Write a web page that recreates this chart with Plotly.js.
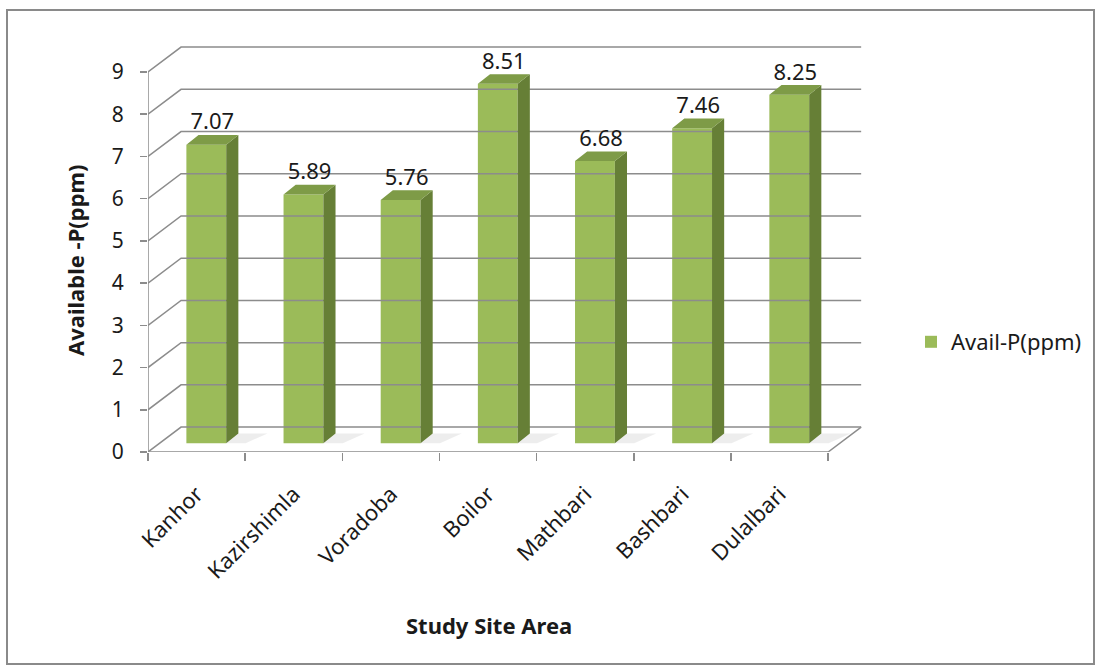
<!DOCTYPE html>
<html>
<head>
<meta charset="utf-8">
<script src="https://cdn.plot.ly/plotly-3.0.1.min.js"></script>
<style>html,body{margin:0;padding:0;background:#fff;}#chart{width:1102px;height:668px;}</style>
</head>
<body>
<div id="chart"></div>
<script>
// ---- data ----
const categories = ['Kanhor', 'Kazirshimla', 'Voradoba', 'Boilor', 'Mathbari', 'Bashbari', 'Dulalbari'];
const availP = [7.07, 5.89, 5.76, 8.51, 6.68, 7.46, 8.25];
const yTickValues = [0, 1, 2, 3, 4, 5, 6, 7, 8, 9];
const seriesName = 'Avail-P(ppm)';
const xTitle = 'Study Site Area';
const yTitle = 'Available -P(ppm)';

// ---- 3D look parameters (in axis units) ----
const wallDx = 0.34, wallDy = 0.59;      // depth offset of back wall
const barBase = 0.21, barOffset = 0.1, barWidth = 0.41;
const sideDx = 0.125, sideDy = 0.23;     // bar depth
const n = categories.length;
const xMin = -0.5, xMax = n - 0.5;
const yMax = yTickValues[yTickValues.length - 1];

const FONT = 'Noto Sans, Open Sans, sans-serif';
const GRID = '#8c8c8c';
const TXT = '#1a1a1a';

// gridlines / walls
const gx = [], gy = [];
yTickValues.forEach(v => {
  gx.push(xMin, xMin + wallDx, xMax + wallDx, null);
  gy.push(v, v + wallDy, v + wallDy, null);
});
gx.push(xMin, xMax, xMax + wallDx, null);
gy.push(0, 0, wallDy, null);
gx.push(xMin, xMin, null);
gy.push(0, yMax, null);

const gridTrace = {
  x: gx, y: gy, mode: 'lines', type: 'scatter',
  line: {color: GRID, width: 1.5}, hoverinfo: 'skip', showlegend: false, connectgaps: false
};

// floor shadows
const shx = [], shy = [];
availP.forEach((v, i) => {
  const xr = i + barOffset + barWidth / 2;
  shx.push(xr, xr + sideDx, xr + sideDx + 0.3, xr + 0.2, null);
  shy.push(barBase, barBase + sideDy, barBase + sideDy, barBase, null);
});
const shadowTrace = {
  x: shx, y: shy, mode: 'lines', type: 'scatter', fill: 'toself',
  fillcolor: 'rgba(0,0,0,0.07)', line: {width: 0}, hoverinfo: 'skip', showlegend: false
};

const barTrace = {
  type: 'bar', name: seriesName,
  x: categories.map((c, i) => i + barOffset),
  y: availP, base: barBase, width: barWidth,
  marker: {color: '#9BBB59', line: {width: 0}},
  hoverinfo: 'skip', showlegend: true
};

// side faces
const sx = [], sy = [];
availP.forEach((v, i) => {
  const xr = i + barOffset + barWidth / 2;
  sx.push(xr, xr, xr + sideDx, xr + sideDx, xr, null);
  sy.push(barBase, barBase + v, barBase + v + sideDy, barBase + sideDy, barBase, null);
});
const sideTrace = {
  x: sx, y: sy, mode: 'lines', type: 'scatter', fill: 'toself',
  fillcolor: '#667F36', line: {width: 0}, hoverinfo: 'skip', showlegend: false
};

// top faces
const tx = [], ty = [];
availP.forEach((v, i) => {
  const xl = i + barOffset - barWidth / 2, xr = i + barOffset + barWidth / 2;
  const t = barBase + v;
  tx.push(xl, xr, xr + sideDx, xl + sideDx, xl, null);
  ty.push(t, t, t + sideDy, t + sideDy, t, null);
});
const topTrace = {
  x: tx, y: ty, mode: 'lines', type: 'scatter', fill: 'toself',
  fillcolor: '#7E9B47', line: {width: 0}, hoverinfo: 'skip', showlegend: false
};

const labelTrace = {
  x: availP.map((v, i) => i + barOffset + sideDx / 2),
  y: availP.map(v => v + barBase + sideDy),
  text: availP.map(v => v.toFixed(2)),
  mode: 'text', type: 'scatter', textposition: 'top center',
  textfont: {family: FONT, size: 22, color: TXT},
  hoverinfo: 'skip', showlegend: false, cliponaxis: false
};

const W = 1102, H = 668;
const mL = 148, mR = 235, mT = 40, mB = 216;
const plotW = W - mL - mR, plotH = H - mT - mB;
const px2paperX = p => (p - mL) / plotW;
const px2paperY = p => (H - mB - p) / plotH;

const layout = {
  width: W, height: H,
  margin: {l: mL, r: mR, t: mT, b: mB, pad: 0},
  paper_bgcolor: '#ffffff', plot_bgcolor: 'rgba(0,0,0,0)',
  showlegend: true,
  font: {family: FONT, color: TXT},
  xaxis: {
    range: [xMin, xMax + 0.4], fixedrange: true,
    tickmode: 'array',
    tickvals: categories.map((c, i) => i),
    ticktext: categories,
    tickangle: -45, ticks: '', ticklabelstandoff: 24,
    tickfont: {family: FONT, size: 22, color: TXT},
    minor: {tickmode: 'array', tickvals: Array.from({length: n + 1}, (_, i) => i - 0.5),
            ticks: 'outside', ticklen: 8, tickcolor: GRID, tickwidth: 1.5, showgrid: false},
    showgrid: false, zeroline: false, showline: false
  },
  yaxis: {
    range: [0, plotH / 42.22], fixedrange: true,
    tickmode: 'array', tickvals: yTickValues,
    ticks: 'outside', ticklen: 7, tickcolor: GRID, tickwidth: 1.5, ticklabelstandoff: 12,
    tickfont: {family: FONT, size: 21, color: TXT},
    showgrid: false, zeroline: false, showline: false
  },
  legend: {
    x: px2paperX(911), xanchor: 'left', y: px2paperY(342), yanchor: 'middle',
    font: {family: FONT, size: 22, color: TXT},
    bgcolor: 'rgba(0,0,0,0)'
  },
  annotations: [
    {text: '<b>' + xTitle + '</b>', xref: 'paper', yref: 'paper',
     x: px2paperX(489), y: px2paperY(625), xanchor: 'center', yanchor: 'middle',
     showarrow: false, font: {family: FONT, size: 22, color: TXT}},
    {text: '<b>' + yTitle + '</b>', xref: 'paper', yref: 'paper',
     x: px2paperX(75), y: px2paperY(261), xanchor: 'center', yanchor: 'middle',
     textangle: -90, showarrow: false, font: {family: FONT, size: 22, color: TXT}}
  ],
  shapes: [
    {type: 'rect', xref: 'paper', yref: 'paper',
     x0: px2paperX(7), x1: px2paperX(1094), y0: px2paperY(664), y1: px2paperY(10),
     line: {color: '#8a8a8a', width: 2}, fillcolor: 'rgba(0,0,0,0)', layer: 'below'}
  ]
};

Plotly.newPlot('chart', [gridTrace, shadowTrace, barTrace, sideTrace, topTrace, labelTrace], layout,
  {displayModeBar: false, staticPlot: true});
</script>
</body>
</html>
